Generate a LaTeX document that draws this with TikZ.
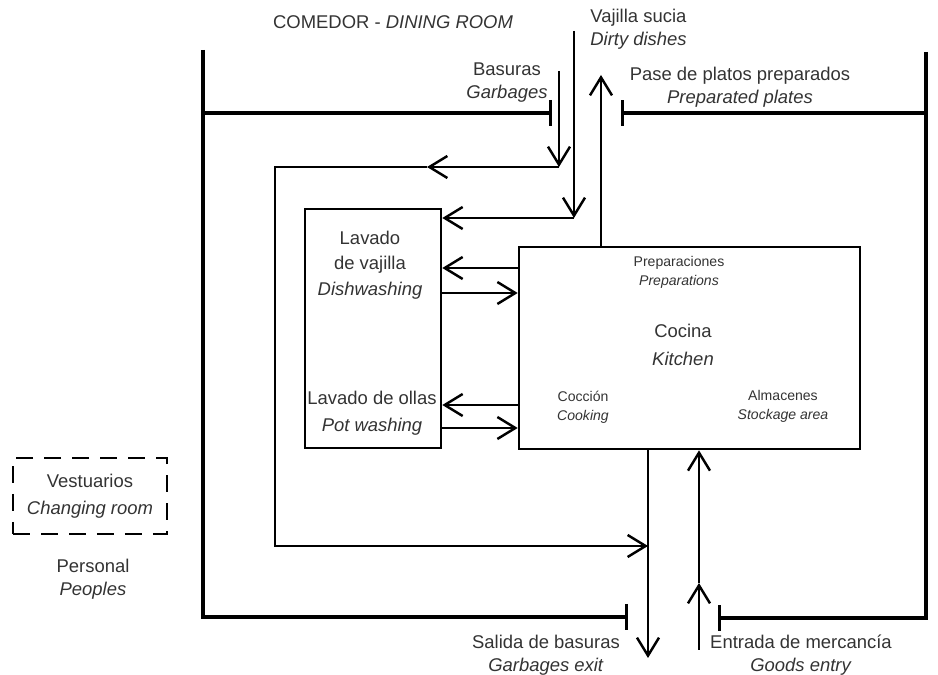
\documentclass[tikz,border=0pt]{standalone}
\usepackage{fontspec}
\setmainfont{Liberation Sans}
\usetikzlibrary{arrows.meta}

\begin{document}
\begin{tikzpicture}[x=0.02cm, y=-0.02cm,
    wall/.style={line width=1.8pt},
    door/.style={wall, -{Bar[width=5.2mm]}},
    flow/.style={line width=1.4pt, -{Straight Barb[length=3.6mm, width=4.4mm]}},
    room/.style={draw=black, line width=1.5pt, inner sep=0pt},
    lbl/.style={font=\fontsize{10.5}{13}\selectfont, text=black!80, align=center, inner sep=0pt},
    small/.style={font=\fontsize{8}{10.8}\selectfont, text=black!80, align=center, inner sep=0pt}]
    \useasboundingbox (0,0) rectangle (938,675);

    \node[room, minimum width=6.82cm, minimum height=4.04cm] (kitchen) at (689.5,348) {};
    \node[room, minimum width=2.72cm, minimum height=4.78cm] (dish) at (373,328.5) {};
    \node[room, dashed, dash pattern=on 3.4mm off 2.2mm, lbl, font=\fontsize{10.5}{15.3}\selectfont,
          minimum width=3.08cm, minimum height=1.52cm] (vest) at (90,496) {Vestuarios\\\textit{Changing room}};

    \node[lbl] (comedor) at (393,22) {COMEDOR - \textit{DINING ROOM}};
    \node[lbl, anchor=west, align=left] (vajilla) at (590,29) {Vajilla sucia\\\textit{Dirty dishes}};
    \node[lbl] (basuras) at (507,82.5) {Basuras\\\textit{Garbages}};
    \node[lbl] (pase) at (740,87.5) {Pase de platos preparados\\\textit{Preparated plates}};
    \node[lbl, font=\fontsize{10.5}{14.5}\selectfont] (dishtxt) at (370,265) {Lavado\\de vajilla\\\textit{Dishwashing}};
    \node[lbl, font=\fontsize{10.5}{15.5}\selectfont] (pottxt) at (372,413) {Lavado de ollas\\\textit{Pot washing}};
    \node[small] (prep) at (679,272.5) {Preparaciones\\\textit{Preparations}};
    \node[lbl, font=\fontsize{10.5}{15.9}\selectfont] (cocina) at (683,345) {Cocina\\\textit{Kitchen}};
    \node[small] (coccion) at (583,407.5) {Cocción\\\textit{Cooking}};
    \node[small] (almacen) at (783,406) {Almacenes\\\textit{Stockage area}};
    \node[lbl] (personal) at (93,579.5) {Personal\\\textit{Peoples}};
    \node[lbl] (salida) at (546,655) {Salida de basuras\\\textit{Garbages exit}};
    \node[lbl] (entrada) at (801,655) {Entrada de mercancía\\\textit{Goods entry}};

    \coordinate (basTop) at (559,71);
    \coordinate (basTurn) at (559,167);
    \coordinate (garbMid) at (427,167);
    \coordinate (garbL) at (275,167);
    \coordinate (garbB) at (275,546);
    \coordinate (garbEnd) at (648,546);
    \coordinate (vajTop) at (574,31);
    \coordinate (vajTurn) at (574,218);
    \coordinate (paseTop) at (601,75);
    \coordinate (exitEnd) at (648,658);
    \coordinate (goodsBot) at (699,650);
    \coordinate (goodsMid) at (699,583);

    \draw[door] (203,50) -- (203,617) -- (628,617);
    \draw[door] (926,52) -- (926,618) -- (718,618);
    \draw[door] (203,113) -- (552,113);
    \draw[door] (926,113) -- (621,113);

    \draw[flow] (basTop) -- (basTurn);
    \draw[flow] (basTurn) -- (garbMid);
    \draw[flow] (garbMid) -- (garbL) -- (garbB) -- (garbEnd);
    \draw[flow] (vajTop) -- (vajTurn);
    \draw[flow] (vajTurn) -- (dish.east |- vajTurn);
    \draw[flow] (kitchen.north -| paseTop) -- (paseTop);
    \draw[flow] (kitchen.west |- 0,268) -- (dish.east |- 0,268);
    \draw[flow] (dish.east |- 0,293) -- (kitchen.west |- 0,293);
    \draw[flow] (kitchen.west |- 0,405) -- (dish.east |- 0,405);
    \draw[flow] (dish.east |- 0,428) -- (kitchen.west |- 0,428);
    \draw[flow] (kitchen.south -| exitEnd) -- (exitEnd);
    \draw[flow] (goodsBot) -- (goodsMid);
    \draw[flow] (goodsMid) -- (kitchen.south -| goodsMid);
\end{tikzpicture}
\end{document}
